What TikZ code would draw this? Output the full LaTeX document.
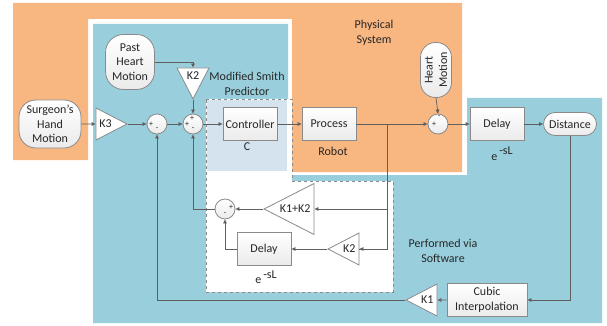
\documentclass[tikz,border=0pt]{standalone}
\usepackage{fontspec}
\setmainfont{Carlito}
\usetikzlibrary{shapes.geometric,arrows.meta,calc}
\definecolor{orng}{HTML}{F8B680}
\definecolor{blu}{HTML}{99CFDC}
\definecolor{lblu}{HTML}{D5E3EE}
\definecolor{ln}{HTML}{5F5F5F}
\definecolor{bd}{HTML}{8A8A8A}
\definecolor{tx}{HTML}{262626}
\begin{document}
\begin{tikzpicture}[x=1pt,y=-1pt,
  every node/.style={text=tx},
  font=\fontsize{12}{14.5}\selectfont,
  blk/.style={draw=bd, line width=0.8pt, top color=white, bottom color=gray!16, minimum width=54pt, minimum height=33pt, inner sep=1pt, align=center},
  term/.style={draw=bd, line width=0.8pt, top color=white, bottom color=gray!16, inner sep=1pt, align=center},
  sumc/.style={circle, draw=bd, line width=0.8pt, top color=white, bottom color=gray!16, minimum size=20pt, inner sep=0pt},
  tri/.style={isosceles triangle, isosceles triangle stretches, draw=bd, line width=0.8pt, fill=white, inner sep=0pt, minimum width=32pt, minimum height=31pt},
  sgn/.style={font=\fontsize{8}{9}\selectfont, inner sep=0pt},
  lbl/.style={align=center, inner sep=0pt},
  arr/.style={draw=ln, line width=0.7pt, -{Triangle[length=4pt,width=3.5pt]}},
  wire/.style={draw=ln, line width=0.7pt}
]
\useasboundingbox (0,0) rectangle (607,326);
% regions
\fill[orng] (13,3) -- (462,3) -- (462,172) -- (292,172) -- (292,19) -- (88,19) -- (88,160) -- (13,160) -- cycle;
\fill[blu] (93,24) -- (288,24) -- (288,175) -- (467,175) -- (467,98) -- (602,98) -- (602,323) -- (93,323) -- cycle;
\filldraw[fill=white, draw=bd, dashed, line width=0.7pt] (206,99) -- (292,99) -- (292,181) -- (393,181) -- (393,292) -- (206,292) -- cycle;
\fill[lblu] (207,100) rectangle (287,171);

% region labels
\node[lbl] (lmsp) at (247,84) {Modified Smith\\Predictor};
\node[lbl] (lphy) at (374,33) {Physical\\System};
\node[lbl] (lsw) at (443,251) {Performed via\\Software};

% terminals
\node[term, rounded corners=17pt, minimum width=62pt, minimum height=48pt] (shm) at (50,124) {Surgeon’s\\Hand\\Motion};
\node[term, rounded corners=18pt, minimum width=49pt, minimum height=55pt] (phm) at (130,62) {Past\\Heart\\Motion};
\node[term, rounded corners=15pt, minimum width=55pt, minimum height=31pt, rotate=90] (hm) at (436,70) {Heart\\Motion};
\node[term, rounded corners=11.5pt, minimum width=53pt, minimum height=23pt] (dist) at (570,124) {Distance};

% blocks
\node[blk] (ctrl) at (250,124) {Controller};
\node[blk] (proc) at (329,124) {Process};
\node[blk] (dly) at (497,124) {Delay};
\node[blk] (d2) at (264,249) {Delay};
\node[blk, minimum width=80pt] (cub) at (487,300) {Cubic\\Interpolation};

\node[lbl] (lc) at (247,147) {C};
\node[lbl] (lrob) at (333,151) {Robot};
\node[lbl] (e1) at (502,154) {e\,\raisebox{6pt}{-sL}};
\node[lbl] (e2) at (266,277) {e\,\raisebox{5pt}{-sL}};

% sums
\node[sumc] (s1) at (157,124) {};
\node[sumc] (s2) at (193,124) {};
\node[sumc] (s3) at (438,124) {};
\node[sumc] (s4) at (225,209) {};
\node[sgn] (s1a) at (151,124) {+};
\node[sgn] (s1b) at (157,129) {-};
\node[sgn] (s2a) at (192,118) {+};
\node[sgn] (s2b) at (187,124) {+};
\node[sgn] (s2c) at (193,129) {-};
\node[sgn] (s3a) at (434,124) {+};
\node[sgn] (s3b) at (439,117) {-};
\node[sgn] (s4a) at (231,207) {+};
\node[sgn] (s4b) at (225,214) {-};

% gains
\node[tri, anchor=apex] (k3) at (128,124) {K3};
\node[tri, shape border rotate=270, anchor=apex] (k2a) at (193,100) {K2};
\node[tri, shape border rotate=180, anchor=apex, minimum width=51pt, minimum height=50pt] (k12) at (263,209) {K1+K2};
\node[tri, shape border rotate=180, anchor=apex] (k2b) at (327,249) {K2};
\node[tri, shape border rotate=180, anchor=apex] (k1) at (405,300) {K1};

% connectors
\draw[arr] (shm.east) -- (k3.west);
\draw[arr] (k3.apex) -- (s1.west);
\draw[arr] (s1.east) -- (s2.west);
\draw[arr] (phm.east |- 0,62) -| (k2a.north);
\draw[arr] (k2a.apex) -- (s2.north);
\draw[arr] (s2.east) -- (ctrl.west);
\draw[arr] (ctrl.east) -- (proc.west);
\draw[arr] (proc.east) -- (s3.west);
\draw[arr] (hm.west) -- (s3.north);
\draw[arr] (s3.east) -- (dly.west);
\draw[arr] (dly.east) -- (dist.west);
\draw[arr] (dist.south) |- (cub.east);
\draw[arr] (cub.west) -- (k1.east);
\draw[arr] (k1.apex) -| (s1.south);
\coordinate (br) at (387,124);
\draw[wire] (br) |- (k2b.east);
\draw[arr] (br |- k12.east) -- (k12.east);
\draw[arr] (br |- k2b.east) -- (k2b.east);
\draw[arr] (k12.apex) -- (s4.east);
\draw[arr] (s4.west) -| (s2.south);
\draw[arr] (k2b.apex) -- (d2.east);
\draw[arr] (d2.west) -| (s4.south);
\end{tikzpicture}
\end{document}
